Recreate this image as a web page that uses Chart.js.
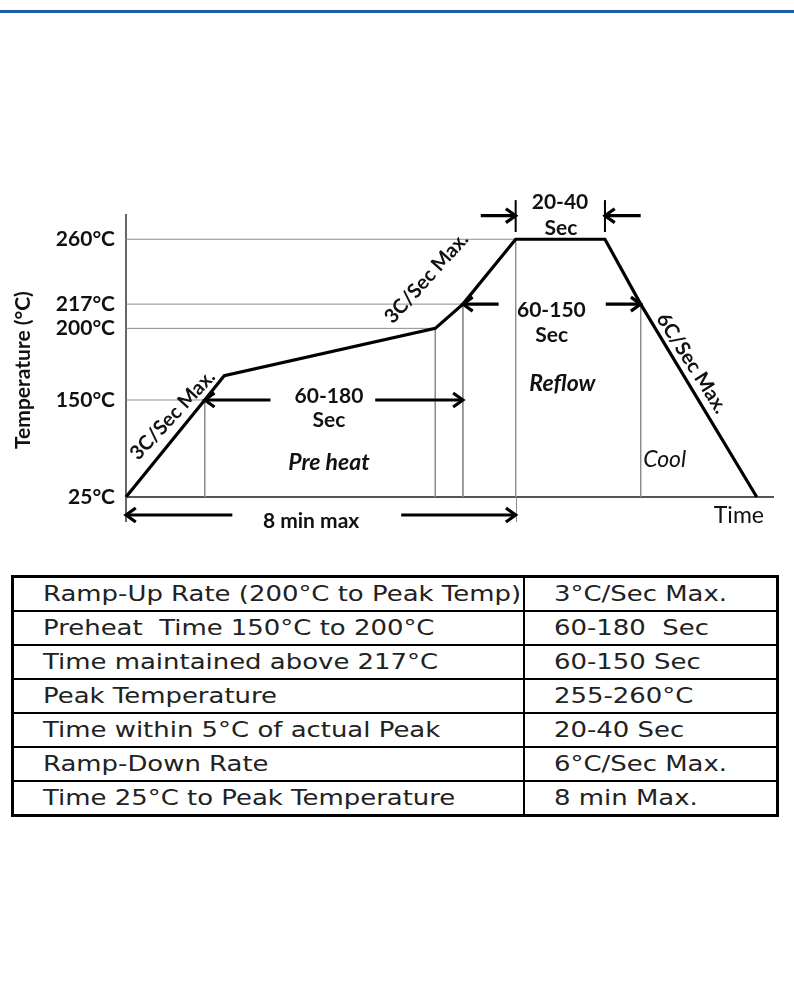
<!DOCTYPE html>
<html><head><meta charset="utf-8">
<script src="https://cdn.jsdelivr.net/npm/chart.js@4.4.1/dist/chart.umd.min.js"></script>
<style>
html,body{margin:0;padding:0;background:#fff;}
body{width:794px;height:1006px;position:relative;overflow:hidden;}
#topline{position:absolute;left:0;top:10px;width:794px;height:3px;background:#1e5ea8;}
#wrap{position:absolute;left:0;top:0;width:794px;height:560px;}
#spec{position:absolute;left:11px;top:575px;width:768px;border-collapse:collapse;border:3px solid #000;table-layout:fixed;}
#spec td{height:32px;padding:0 0 0 29px;border:2px solid #000;font-family:'DejaVu Sans',sans-serif;font-size:20.5px;color:#222;white-space:pre;overflow:hidden;line-height:1;}
#spec td span{display:inline-block;transform-origin:0 50%;}
</style></head>
<body>
<div id="topline"></div>
<div id="wrap"><canvas id="c" width="794" height="560"></canvas></div>
<table id="spec"><colgroup><col style="width:511px"><col></colgroup><tbody id="tb"></tbody></table>
<script>
// ---- data ----
const profileTime = [0, 97, 121, 381, 415, 480, 590, 634, 777];
const profileTemp = [25, 150, 167, 200, 217, 260, 260, 217, 25];
const tempTicks = [25, 150, 200, 217, 260];
const tempTickLabels = ['25°C', '150°C', '200°C', '217°C', '260°C'];
const crossTimes = [97, 381, 415, 480];      // time where profile first reaches each level
const crossTemps = [150, 200, 217, 260];
const coolTime = 634;                       // drop back through 217°C
const coolTemp = 217;
const peakWindow = [480, 590];
const rateLabels = ['3C/Sec Max.', '3C/Sec Max.', '6C/Sec Max.'];
const phaseLabels = ['Pre heat', 'Reflow', 'Cool'];
const intervalLabels = ['60-180', '60-150', '20-40', '8 min max'];
const paramNames = ['Ramp-Up Rate (200°C to Peak Temp)', 'Preheat  Time 150°C to 200°C', 'Time maintained above 217°C', 'Peak Temperature', 'Time within 5°C of actual Peak', 'Ramp-Down Rate', 'Time 25°C to Peak Temperature'];
const paramValues = ['3°C/Sec Max.', '60-180  Sec', '60-150 Sec', '255-260°C', '20-40 Sec', '6°C/Sec Max.', '8 min Max.'];

// ---- schematic (non-linear) temperature scale ----
const yPieces = {values: [25, 150, 200, 217, 260, 280], decimals: [0, 0.344, 0.598, 0.684, 0.914, 1]};
function pw(v, from, to) {
  let i = 0;
  while (i < from.length - 2 && v > from[i + 1]) i++;
  return to[i] + (v - from[i]) * (to[i + 1] - to[i]) / (from[i + 1] - from[i]);
}
class PiecewiseScale extends Chart.LinearScale {
  getPixelForValue(v) {
    if (v === null || v === undefined || isNaN(v)) return NaN;
    return this.getPixelForDecimal(pw(v, yPieces.values, yPieces.decimals));
  }
  getValueForPixel(p) { return pw(this.getDecimalForPixel(p), yPieces.decimals, yPieces.values); }
}
PiecewiseScale.id = 'piecewise';
PiecewiseScale.defaults = {ticks: {callback: Chart.Ticks.formatters.numeric}};
Chart.register(PiecewiseScale);

const txt = '#111';
const F = (size, weight, style) => ({family: 'Lato', size, weight, style});

// annotations (data coordinates, dy = pixel nudge)
const textNotes = [
  {text: intervalLabels[0], t: 250, v: 152.8, font: F(21, 'bold')},
  {text: 'Sec', t: 250, v: 124, font: F(21, 'bold')},
  {text: phaseLabels[0], t: 250, v: 69, font: F(23, 'bold', 'italic')},
  {text: intervalLabels[1], t: 524, v: 212.8, font: F(21, 'bold')},
  {text: 'Sec', t: 524.5, v: 195.3, font: F(21, 'bold')},
  {text: phaseLabels[1], t: 537.6, v: 161.2, font: F(23, 'bold', 'italic')},
  {text: phaseLabels[2], t: 663.6, v: 73, font: F(23, 'normal', 'italic')},
  {text: intervalLabels[2], t: 534.6, v: 290.3, font: F(21, 'bold')},
  {text: 'Sec', t: 535.8, v: 269, font: F(21, 'bold')},
  {text: intervalLabels[3], t: 228, v: 25, dy: 24, font: F(21, 'bold')},
  {text: 'Time', t: 755, v: 25, dy: 19, font: F(23, 'normal')}
];
const rateNotes = [
  {text: rateLabels[0], t: 57.4, v: 130.6, angle: -47},
  {text: rateLabels[1], t: 370.2, v: 234.3, angle: -48},
  {text: rateLabels[2], t: 697, v: 175.6, angle: 57.5}
];
const arrowNotes = [
  {v: 150, dy: 0, pairs: [[178, 97], [307, 415]]},
  {v: 217, dy: 0, pairs: [[459, 415], [591, 634]]},
  {v: 280, dy: 0.7, pairs: [[437, 480], [634, 590]]},
  {v: 25, dy: 18, pairs: [[131, 0], [339, 480]]}
];

function arrow(ctx, x1, y1, x2, y2) {
  const ang = Math.atan2(y2 - y1, x2 - x1), h = 12, a = 0.62;
  ctx.beginPath(); ctx.moveTo(x1, y1); ctx.lineTo(x2 - Math.cos(ang) * 2, y2 - Math.sin(ang) * 2); ctx.stroke();
  ctx.beginPath();
  ctx.moveTo(x2 - h * Math.cos(ang - a), y2 - h * Math.sin(ang - a));
  ctx.lineTo(x2, y2);
  ctx.lineTo(x2 - h * Math.cos(ang + a), y2 - h * Math.sin(ang + a));
  ctx.stroke();
}
const fontStr = f => `${f.style || 'normal'} ${f.weight || 'normal'} ${f.size}px ${f.family}`;

const extras = {
  id: 'extras',
  afterDatasetsDraw(chart) {
    const {ctx, scales: {x, y}} = chart;
    const X = t => x.getPixelForValue(t), Y = v => y.getPixelForValue(v);
    const base = Y(25);
    ctx.save();
    // axis / guide extensions below the time axis
    ctx.strokeStyle = '#666'; ctx.lineWidth = 2;
    ctx.beginPath(); ctx.moveTo(X(0), base); ctx.lineTo(X(0), base + 25); ctx.stroke();
    ctx.strokeStyle = '#8c8c8c'; ctx.lineWidth = 1;
    ctx.beginPath(); ctx.moveTo(Math.round(X(peakWindow[0])) + 0.5, base); ctx.lineTo(Math.round(X(peakWindow[0])) + 0.5, base + 25); ctx.stroke();
    // peak window markers
    ctx.strokeStyle = '#000'; ctx.lineWidth = 2;
    peakWindow.forEach(t => { ctx.beginPath(); ctx.moveTo(X(t), Y(292.3)); ctx.lineTo(X(t), Y(266)); ctx.stroke(); });
    // arrows
    ctx.lineWidth = 3.2; ctx.lineJoin = 'miter'; ctx.lineCap = 'butt';
    arrowNotes.forEach(a => {
      const yy = Y(a.v) + a.dy;
      a.pairs.forEach(([t1, t2]) => arrow(ctx, X(t1), yy, X(t2), yy));
    });
    // texts
    ctx.fillStyle = txt; ctx.textBaseline = 'middle'; ctx.textAlign = 'center';
    textNotes.forEach(n => {
      ctx.font = fontStr(n.font);
      ctx.fillText(n.text, X(n.t), Y(n.v) + (n.dy || 0));
    });
    ctx.font = fontStr(F(20, 'bold'));
    rateNotes.forEach(n => {
      ctx.save();
      ctx.translate(X(n.t), Y(n.v));
      ctx.rotate(n.angle * Math.PI / 180);
      ctx.fillText(n.text, 0, 0);
      ctx.restore();
    });
    // y axis title
    ctx.save();
    ctx.font = fontStr(F(21, 'bold'));
    ctx.translate(y.left + 23, Y(170.9));
    ctx.rotate(-Math.PI / 2);
    ctx.fillText('Temperature (°C)', 0, 0);
    ctx.restore();
    ctx.restore();
  }
};

const pt = (t, v) => ({x: t, y: v});
const guideSets = [];
crossTimes.forEach((t, i) => {
  guideSets.push([pt(0, crossTemps[i]), pt(t, crossTemps[i])]);
  guideSets.push([pt(t, crossTemps[i]), pt(t, 25)]);
});
guideSets.push([pt(coolTime, coolTemp), pt(coolTime, 25)]);

const datasets = guideSets.map(d => ({
  data: d, borderColor: '#8c8c8c', borderWidth: 1, pointRadius: 0, clip: false, order: 2
}));
datasets.push({
  label: 'Reflow profile',
  data: profileTime.map((t, i) => pt(t, profileTemp[i])),
  borderColor: '#000', borderWidth: 3.2, pointRadius: 0, tension: 0, clip: false, order: 1
});

new Chart(document.getElementById('c'), {
  type: 'line',
  data: {datasets},
  options: {
    responsive: false, animation: false, events: [],
    layout: {padding: {top: 215, left: 0, right: 21, bottom: 63}},
    plugins: {legend: {display: false}, tooltip: {enabled: false}},
    scales: {
      x: {
        type: 'linear', min: 0, max: 797,
        grid: {display: false}, ticks: {display: false},
        border: {display: true, color: '#555', width: 2},
        afterFit: s => { s.height = 0; s.paddingLeft = 0; s.paddingRight = 0; }
      },
      y: {
        type: 'piecewise', min: 25, max: 280,
        grid: {display: false, drawTicks: false},
        border: {display: true, color: '#666', width: 2},
        afterBuildTicks: s => { s.ticks = tempTicks.map(v => ({value: v})); },
        ticks: {
          autoSkip: false, padding: 11, color: txt, font: F(21, 'bold'),
          callback: (v, i) => tempTickLabels[i]
        },
        afterFit: s => { s.width = 126; s.paddingTop = 0; s.paddingBottom = 0; }
      }
    }
  },
  plugins: [extras]
});

// ---- table ----
const tb = document.getElementById('tb');
paramNames.forEach((n, i) => {
  const tr = document.createElement('tr');
  tr.style.height = '34px';
  [n, paramValues[i]].forEach(s => {
    const td = document.createElement('td');
    const sp = document.createElement('span');
    sp.textContent = s;
    td.appendChild(sp); tr.appendChild(td);
  });
  tb.appendChild(tr);
});
const first = tb.querySelector('span');
const k = 478 / first.getBoundingClientRect().width;
tb.querySelectorAll('span').forEach(s => { s.style.transform = `scaleX(${k})`; });
</script>
</body></html>
